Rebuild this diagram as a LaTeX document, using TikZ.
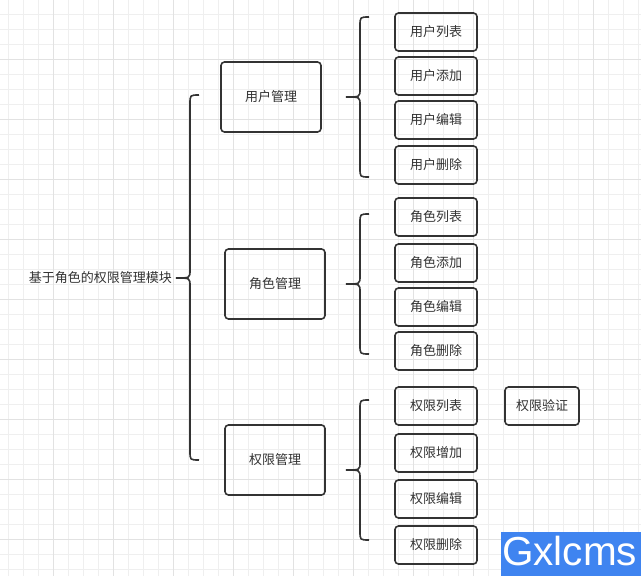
\documentclass[tikz,border=0pt]{standalone}
\usepackage{fontspec}
\setmainfont{Noto Sans CJK SC}
\newfontfamily\wmfont{Liberation Sans}
\definecolor{minorgrid}{HTML}{EFEFEF}
\definecolor{majorgrid}{HTML}{E2E2E2}
\definecolor{ink}{HTML}{333333}
\definecolor{wmblue}{HTML}{3F84F0}
\tikzset{
  box/.style={draw=ink, line width=1.6pt, rounded corners=3.5pt, text=ink, font=\fontsize{13}{15}\selectfont, inner sep=0pt},
  bigbox/.style={box, minimum width=100pt, minimum height=70pt},
  leaf/.style={box, minimum width=82pt, minimum height=38pt},
  bracket/.style={draw=ink, line width=1.6pt},
}
\newcommand\mybrace[4]{% x, top, mid, bottom
  \draw[bracket] ({#1+9},#2) .. controls (#1,#2) .. (#1,{#2+9}) -- (#1,{#3-8})
    .. controls (#1,#3) .. ({#1-14},#3) .. controls (#1,#3) .. (#1,{#3+8})
    -- (#1,{#4-9}) .. controls (#1,#4) .. ({#1+9},#4);}
\begin{document}
\begin{tikzpicture}[x=1pt,y=-1pt]
\useasboundingbox (0,0) rectangle (641,576);
\fill[white] (0,0) rectangle (641,576);
% grid
\foreach \gx in {8.3,23.3,...,641} \draw[minorgrid, line width=0.8pt] (\gx,0) -- (\gx,576);
\foreach \gy in {14.3,29.3,...,576} \draw[minorgrid, line width=0.8pt] (0,\gy) -- (641,\gy);
\foreach \gx in {53.3,113.3,...,641} \draw[majorgrid, line width=0.8pt] (\gx,0) -- (\gx,576);
\foreach \gy in {59.3,119.3,...,576} \draw[majorgrid, line width=0.8pt] (0,\gy) -- (641,\gy);

\node[text=ink, font=\fontsize{13}{15}\selectfont, anchor=east, inner sep=0pt] (root) at (172,278) {基于角色的权限管理模块};

\mybrace{190}{95}{278}{460}

\node[bigbox] (user) at (271,97) {用户管理};
\node[bigbox] (role) at (275,284) {角色管理};
\node[bigbox] (perm) at (275,460) {权限管理};

\mybrace{360}{17}{97}{177}
\mybrace{360}{214}{284}{354}
\mybrace{360}{400}{470}{540}

\node[leaf] (u1) at (436,32) {用户列表};
\node[leaf] (u2) at (436,76) {用户添加};
\node[leaf] (u3) at (436,120) {用户编辑};
\node[leaf] (u4) at (436,165) {用户删除};

\node[leaf] (r1) at (436,217) {角色列表};
\node[leaf] (r2) at (436,263) {角色添加};
\node[leaf] (r3) at (436,307) {角色编辑};
\node[leaf] (r4) at (436,351) {角色删除};

\node[leaf] (p1) at (436,406) {权限列表};
\node[leaf] (p2) at (436,453) {权限增加};
\node[leaf] (p3) at (436,499) {权限编辑};
\node[leaf] (p4) at (436,545) {权限删除};

\node[box, minimum width=74pt, minimum height=38pt] (pv) at (542,406) {权限验证};

\fill[wmblue] (501,532) rectangle (641,576);
\node[text=white, font=\wmfont\fontsize{40.5}{41}\selectfont, anchor=base west, inner sep=0pt] (wm) at (502,565) {Gxlcms};
\end{tikzpicture}
\end{document}
